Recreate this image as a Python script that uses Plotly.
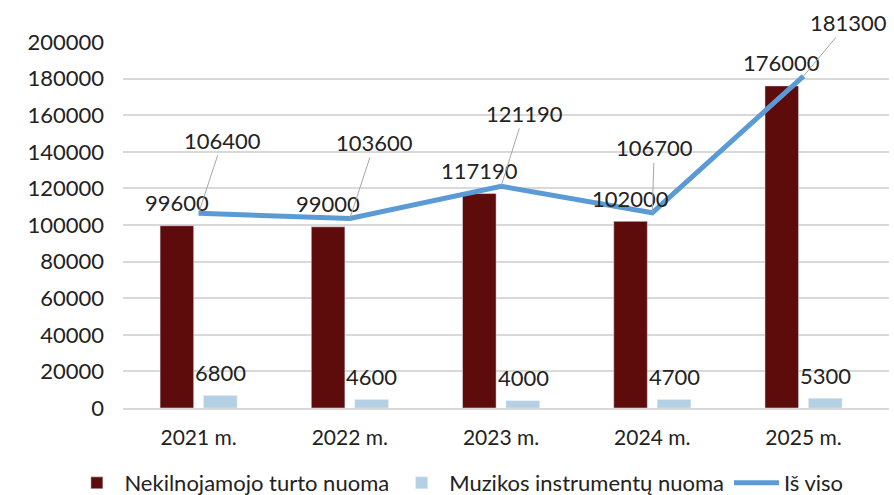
import plotly.graph_objects as go

years = ["2021 m.", "2022 m.", "2023 m.", "2024 m.", "2025 m."]
real_estate = [99600, 99000, 117190, 102000, 176000]
instruments = [6800, 4600, 4000, 4700, 5300]
total = [106400, 103600, 121190, 106700, 181300]
total_label_offsets = [(24, -73), (25, -76), (23, -73), (2, -65), (45, -54)]

FONT = "Lato"
TXT = "#222222"
FS = 22

fig = go.Figure()
fig.add_trace(go.Bar(name="Nekilnojamojo turto nuoma", x=years, y=real_estate,
                     marker_color="#5e0c0b"))
fig.add_trace(go.Bar(name="Muzikos instrumentų nuoma", x=years, y=instruments,
                     marker_color="#b4d0e4"))
fig.add_trace(go.Scatter(name="Iš viso", x=years, y=total, mode="lines",
                         line=dict(color="#5b9bd5", width=5)))

annotations = []
for x, v in zip(years, real_estate):
    annotations.append(dict(x=x, y=v, text=str(v), showarrow=False, xshift=-22, yshift=23,
                            font=dict(family=FONT, size=FS, color=TXT)))
for x, v in zip(years, instruments):
    annotations.append(dict(x=x, y=v, text=str(v), showarrow=False, xshift=22, yshift=23,
                            font=dict(family=FONT, size=FS, color=TXT)))
for x, v, (dx, dy) in zip(years, total, total_label_offsets):
    annotations.append(dict(x=x, y=v, text=str(v), showarrow=True, arrowhead=0,
                            arrowwidth=1, arrowcolor="#a6a6a6", ax=dx, ay=dy, standoff=0,
                            font=dict(family=FONT, size=FS, color=TXT)))

fig.update_layout(
    width=894, height=495,
    margin=dict(l=123, r=5, t=42, b=87, autoexpand=False),
    paper_bgcolor="white", plot_bgcolor="white",
    barmode="group", bargap=0.425, bargroupgap=0.227,
    font=dict(family=FONT, size=FS, color=TXT),
    annotations=annotations,
    showlegend=True,
    legend=dict(orientation="h", x=-0.07, xanchor="left", y=-0.205, yanchor="middle",
                font=dict(family=FONT, size=FS, color=TXT), itemwidth=45,
                traceorder="normal"),
)
fig.update_yaxes(range=[0, 200000], dtick=20000, showgrid=True, gridcolor="#d9d9d9",
                 gridwidth=1.5, zeroline=False, tickformat="d", ticklabelstandoff=18,
                 automargin=False,
                 tickfont=dict(family=FONT, size=FS, color=TXT))
fig.update_xaxes(showline=True, linecolor="#d9d9d9", linewidth=1.5, ticks="",
                 ticklabelstandoff=10, automargin=False,
                 tickfont=dict(family=FONT, size=FS - 1, color=TXT))

fig.write_html("out.html", config={"displayModeBar": False},
               post_script="document.body.style.margin='0';")
